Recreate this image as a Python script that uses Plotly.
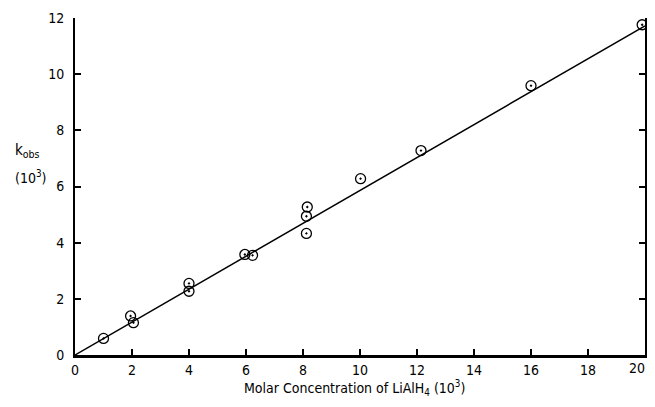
import plotly.graph_objects as go

# Data
conc = [1.0, 1.95, 2.05, 4.0, 4.0, 5.96, 6.23, 8.15, 8.12, 8.12, 10.02, 12.14, 16.0, 19.9]
kobs = [0.59, 1.39, 1.15, 2.55, 2.27, 3.58, 3.55, 5.27, 4.94, 4.33, 6.28, 7.28, 9.59, 11.76]
fit_x = [0, 20]
fit_y = [0, 11.72]
x_ticks = [0, 2, 4, 6, 8, 10, 12, 14, 16, 18, 20]
y_ticks = [0, 2, 4, 6, 8, 10, 12]

FONT = "DejaVu Sans Condensed, Liberation Sans Narrow, sans-serif"

# the page body has a default 8px margin; compensate so the plot lands where the reference has it
OFF = 8
W, H = 655 - 2 * OFF, 407 - 2 * OFF
L, T = 75 - OFF, 18 - OFF
R = W - (645 - OFF)
B = H - (355 - OFF)

fig = go.Figure()
fig.add_trace(go.Scatter(x=fit_x, y=fit_y, mode="lines",
                         line=dict(color="black", width=1.5), showlegend=False,
                         cliponaxis=False))
fig.add_trace(go.Scatter(x=conc, y=kobs, mode="markers",
                         marker=dict(symbol="circle-open-dot", size=10, color="black",
                                     line=dict(color="black", width=1.3)),
                         showlegend=False, cliponaxis=False))

# the last x label sits at the page edge: draw it right-anchored so it stays visible
x_text = [str(v) for v in x_ticks[:-1]] + [""]

fig.update_layout(
    width=W, height=H,
    margin=dict(l=L, r=R, t=T, b=B, autoexpand=False),
    paper_bgcolor="white", plot_bgcolor="white",
    font=dict(family=FONT, size=13, color="black"),
    xaxis=dict(range=[0, 20], tickvals=x_ticks, ticktext=x_text,
               showgrid=False, zeroline=False, showline=True, linecolor="black",
               linewidth=2.5, ticks="inside", ticklen=6, tickwidth=1.5, tickcolor="black",
               tickfont=dict(size=14), automargin=False, ticklabeloverflow="allow"),
    yaxis=dict(range=[0, 12], tickvals=y_ticks, ticktext=[str(v) for v in y_ticks],
               showgrid=False, zeroline=False, showline=True, linecolor="black",
               linewidth=2, mirror="ticks", ticks="inside", ticklen=6, tickwidth=1.5,
               tickcolor="black", tickfont=dict(size=14), ticklabelstandoff=6,
               automargin=False, ticklabeloverflow="allow"),
)

fig.add_annotation(text=str(x_ticks[-1]), x=x_ticks[-1], xref="x", y=0, yref="paper",
                   xanchor="right", yanchor="top", xshift=2, yshift=-3,
                   showarrow=False, font=dict(size=14))

pw = W - L - R
ph = H - T - B


def px_ann(text, x, y, xanchor="center", size=14):
    # x, y given in screenshot pixels from the top-left
    x -= OFF
    y -= OFF
    fig.add_annotation(text=text, x=(x - L) / pw, y=(H - B - y) / ph,
                       xref="paper", yref="paper", showarrow=False,
                       xanchor=xanchor, yanchor="middle", font=dict(size=size))


px_ann("k<sub>obs</sub>", 13, 150, xanchor="left", size=15)
px_ann("(10<sup>3</sup>)", 13, 177, xanchor="left", size=14)
px_ann("Molar Concentration of LiAlH<sub>4</sub> (10<sup>3</sup>)", 354, 388, size=14)

fig.write_html("out.html")
